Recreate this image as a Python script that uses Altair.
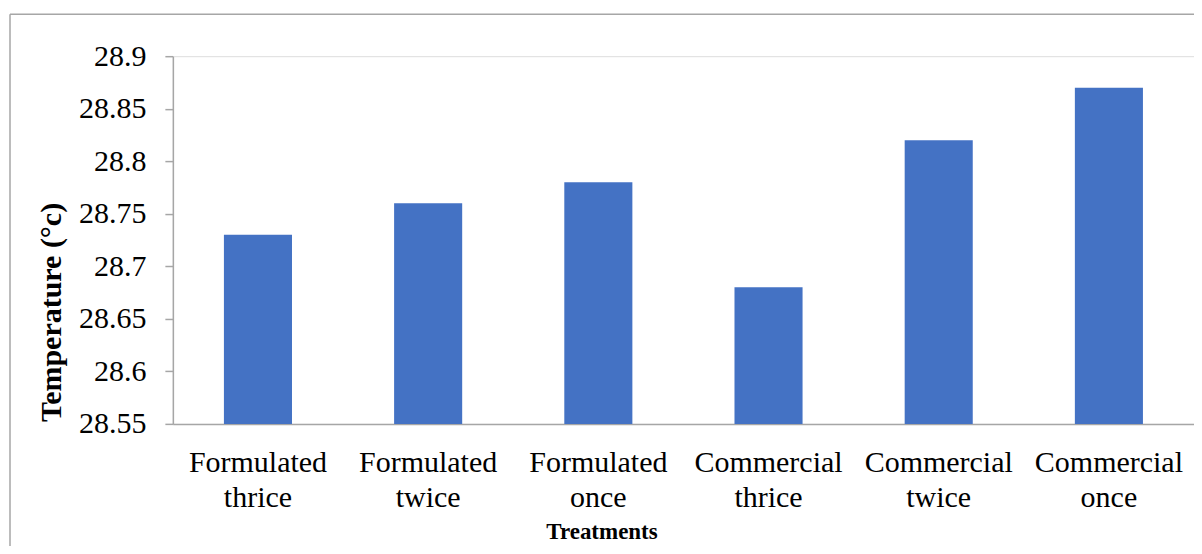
import altair as alt
import pandas as pd

categories = ["Formulated thrice", "Formulated twice", "Formulated once",
              "Commercial thrice", "Commercial twice", "Commercial once"]
temperatures = [28.73, 28.76, 28.78, 28.68, 28.82, 28.87]
y_ticks = [28.55, 28.6, 28.65, 28.7, 28.75, 28.8, 28.85, 28.9]
y_min, y_max = 28.55, 28.9

df = pd.DataFrame({"Treatment": categories, "Temperature": temperatures})

FONT = "Liberation Serif, Times New Roman, serif"
AXIS_COLOR = "#a6a6a6"

bars = alt.Chart(df).mark_bar(color="#4472C4").encode(
    x=alt.X("Treatment:N", sort=categories,
            scale=alt.Scale(paddingInner=0.6, paddingOuter=0.3),
            axis=alt.Axis(title="Treatments", labelAngle=0,
                          labelExpr="split(datum.label, ' ')",
                          labelFontSize=30, labelColor="#000000",
                          labelLineHeight=35, labelBaseline="alphabetic",
                          labelPadding=48, ticks=False,
                          domainColor=AXIS_COLOR, domainWidth=1.5,
                          titleFontSize=23, titleFontWeight="bold",
                          titleColor="#000000", titleX=429, titleY=115,
                          titleBaseline="alphabetic", titleAlign="center")),
    y=alt.Y("Temperature:Q",
            scale=alt.Scale(domain=[y_min, y_max], zero=False, nice=False),
            axis=alt.Axis(title="Temperature (°c)", values=y_ticks, format=".2~f",
                          grid=False, labelFontSize=30,
                          labelColor="#000000", labelPadding=19,
                          tickSize=8, tickColor=AXIS_COLOR, tickWidth=1.5,
                          domainColor=AXIS_COLOR, domainWidth=1.5,
                          titleFontSize=30, titleFontWeight="bold",
                          titleColor="#000000", titleX=-121, titleY=256,
                          titleBaseline="middle", titleAlign="center", titleAngle=-90)),
    y2=alt.Y2(datum=y_min),
)

frame = pd.DataFrame({"k": [0]})
left_border = alt.Chart(frame).mark_rule(color=AXIS_COLOR, strokeWidth=1.5).encode(
    x=alt.value(-163), y=alt.value(-42), y2=alt.value(498))
top_border = alt.Chart(frame).mark_rule(color=AXIS_COLOR, strokeWidth=1.5).encode(
    x=alt.value(-163), x2=alt.value(1029), y=alt.value(-42))

chart = alt.layer(bars, left_border, top_border).properties(
    width=1022, height=368,
    autosize=alt.AutoSizeParams(type="none"),
    padding={"left": 165, "top": 48, "right": 0, "bottom": 122},
).configure_view(stroke=None).configure(
    background="white", font=FONT
).configure_axis(labelFont=FONT, titleFont=FONT)

chart.save("out.html", embed_options={"renderer": "svg", "actions": False})
